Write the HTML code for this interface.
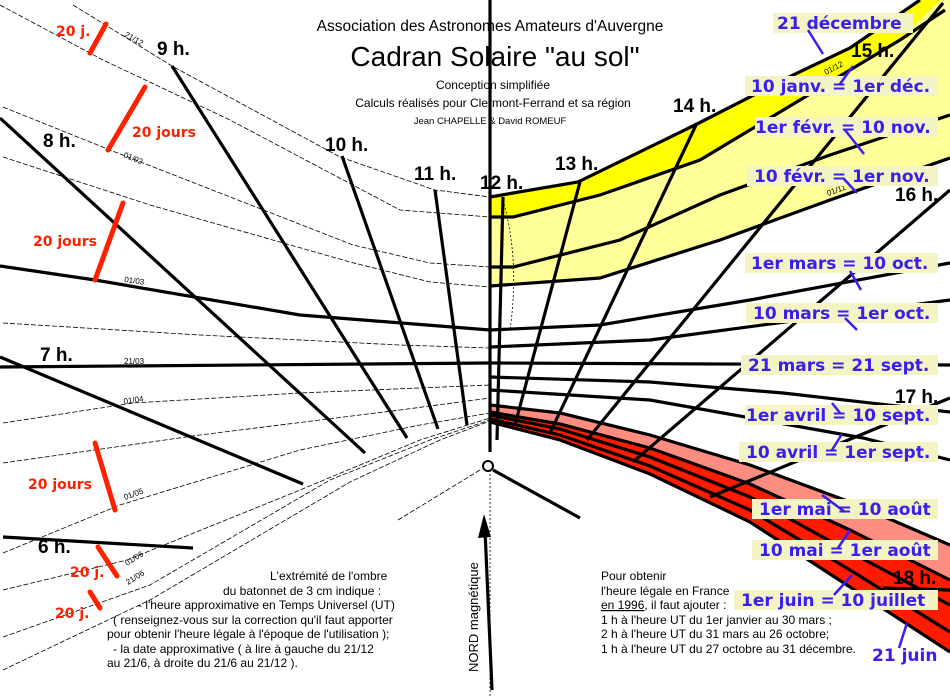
<!DOCTYPE html>
<html><head><meta charset="utf-8"><style>
html,body{margin:0;padding:0;background:#fff}
svg{display:block}
.hl{font-family:"Liberation Sans",sans-serif;font-weight:bold;font-size:19px;fill:#000}
.bl{font-family:"DejaVu Sans",sans-serif;font-weight:bold;font-size:17px;fill:#3a1ef0}
.rd{font-family:"DejaVu Sans",sans-serif;font-weight:bold;font-size:14px;fill:#ff2000}
.tx{font-family:"Liberation Sans",sans-serif;font-size:12px;fill:#000}
.sm{font-family:"Liberation Sans",sans-serif;font-size:8px;fill:#000}
</style></head><body>
<svg width="950" height="697" viewBox="0 0 950 697" xmlns="http://www.w3.org/2000/svg">
<polygon points="490,197 578,182 695,125 793,75 850,48 920,0 950,0 950,158 830,200 720,240 600,278 490,286" fill="#ffff99"/>
<polygon points="490,197 578,182 695,125 793,75 850,48 920,0 940,0 900,40 800,100 700,160 600,195 513,217 490,217" fill="#ffff00"/>
<polygon points="490,405 560,413 650,435 750,465 850,502 950,545 950,580 850,530 750,484 650,448 560,424 490,412" fill="#ff8c80"/>
<polygon points="490,412 560,424 650,448 750,484 850,530 950,580 950,652 850,587 750,522 650,474 560,440 490,422" fill="#ff1a00"/>
<g fill="none" stroke="#000" stroke-width="0.8" stroke-dasharray="5,2">
<polyline points="73,5 172,66 340,157 435,190 490,197"/>
<polyline points="0,5 103,60 230,120 400,210 490,217"/>
<polyline points="3,107 110,150 353,245 430,263 490,267"/>
<polyline points="3,157 150,205 350,262 430,282 490,287"/>
<polyline points="3,323 200,335 400,345 490,348"/>
<polyline points="3,423 133,403 300,393 490,385"/>
<polyline points="3,463 200,435 400,410 490,398"/>
<polyline points="3,553 120,505 300,450 420,425 490,413"/>
<polyline points="3,590 127,560 300,490 420,440 490,418"/>
<polyline points="3,637 150,585 330,480 430,440 490,420"/>
<polyline points="3,670 150,600 350,482 440,440 490,421"/>
<polyline points="398,520 480,470"/>
<line x1="490" y1="470" x2="490" y2="697" stroke-dasharray="2,2"/>
<path d="M503,200 Q520,260 510,330" stroke-dasharray="2,2"/>
</g>
<g fill="none" stroke="#000" stroke-width="3.2">
<polyline points="490,197 578,182 695,125 793,75 850,48 920,0"/>
<polyline points="490,217 513,217 600,195 700,160 800,100 900,40 945,10"/>
<polyline points="490,267 513,267 620,240 720,195 830,155 950,115"/>
<polyline points="490,286 600,278 720,240 830,200 950,158"/>
<polyline points="0,266 95,280 300,315 490,330 600,325 750,300 950,263"/>
<polyline points="490,347 650,340 800,320 950,300"/>
<polyline points="0,367 490,363 950,365"/>
<polyline points="490,377 650,382 783,393 950,412"/>
<polyline points="490,390 650,400 863,438 950,460"/>
<polyline points="490,405 560,413 650,435 750,465 850,502 950,545"/>
<polyline points="490,412 560,424 650,448 750,484 850,530 950,580"/>
<polyline points="490,415 560,429 650,457 750,497 850,552 950,605"/>
<polyline points="490,419 560,435 650,466 750,510 850,570 950,632"/>
<polyline points="490,422 560,440 650,474 750,522 850,587 950,652"/>
</g>
<g stroke="#000" stroke-width="3.2" fill="none">
<line x1="172" y1="66" x2="407" y2="438"/>
<line x1="0" y1="118" x2="365" y2="453"/>
<line x1="0" y1="357" x2="303" y2="484"/>
<line x1="3" y1="537" x2="193" y2="548"/>
<line x1="342" y1="156" x2="438" y2="429"/>
<line x1="435" y1="190" x2="467" y2="425"/>
<line x1="490" y1="0" x2="490" y2="452"/>
<line x1="503" y1="197" x2="497" y2="440"/>
<line x1="580" y1="182" x2="515" y2="425"/>
<line x1="697" y1="123" x2="550" y2="433"/>
<line x1="943" y1="3" x2="587" y2="440"/>
<line x1="950" y1="190" x2="633" y2="462"/>
<line x1="950" y1="398" x2="710" y2="497"/>
<line x1="883" y1="588" x2="950" y2="590"/>
<line x1="493" y1="470" x2="580" y2="518"/>
<line x1="492" y1="690" x2="485" y2="530"/>
</g>
<polygon points="484,514 478,538 491,537" fill="#000"/>
<circle cx="488" cy="466" r="5" fill="none" stroke="#000" stroke-width="2"/>
<g stroke="#ff2000" stroke-width="5" stroke-linecap="round">
<line x1="106" y1="24" x2="90" y2="53"/>
<line x1="145" y1="87" x2="108" y2="150"/>
<line x1="123" y1="203" x2="95" y2="280"/>
<line x1="95" y1="443" x2="115" y2="510"/>
<line x1="98" y1="547" x2="117" y2="576"/>
<line x1="90" y1="592" x2="100" y2="608"/>
</g>
<text class="rd" x="56" y="36">20 j.</text>
<text class="rd" x="132" y="137">20 jours</text>
<text class="rd" x="33" y="246">20 jours</text>
<text class="rd" x="28" y="489">20 jours</text>
<text class="rd" x="70" y="577">20 j.</text>
<text class="rd" x="55" y="618">20 j.</text>
<text class="sm" x="124" y="36" transform="rotate(30 124 36)">21/12</text>
<text class="sm" x="123" y="157" transform="rotate(22 123 157)">01/02</text>
<text class="sm" x="124" y="282" transform="rotate(8 124 282)">01/03</text>
<text class="sm" x="124" y="364">21/03</text>
<text class="sm" x="124" y="404" transform="rotate(-8 124 404)">01/04</text>
<text class="sm" x="125" y="500" transform="rotate(-20 125 500)">01/05</text>
<text class="sm" x="127" y="566" transform="rotate(-32 127 566)">01/06</text>
<text class="sm" x="128" y="585" transform="rotate(-32 128 585)">21/06</text>
<text class="sm" x="826" y="75" transform="rotate(-28 826 75)">01/12</text>
<text class="sm" x="828" y="196" transform="rotate(-20 828 196)">01/11</text>
<text class="hl" x="157" y="55">9 h.</text>
<text class="hl" x="43" y="147">8 h.</text>
<text class="hl" x="325" y="151">10 h.</text>
<text class="hl" x="414" y="180">11 h.</text>
<text class="hl" x="480" y="189">12 h.</text>
<text class="hl" x="555" y="170">13 h.</text>
<text class="hl" x="673" y="112">14 h.</text>
<text class="hl" x="851" y="57">15 h.</text>
<text class="hl" x="895" y="201">16 h.</text>
<text class="hl" x="895" y="403">17 h.</text>
<text class="hl" x="893" y="584">18 h.</text>
<text class="hl" x="40" y="361">7 h.</text>
<text class="hl" x="38" y="553">6 h.</text>
<g font-family="Liberation Sans,sans-serif" fill="#000" text-anchor="middle">
<text x="490" y="31" font-size="15.5">Association des Astronomes Amateurs d'Auvergne</text>
<text x="495" y="66" font-size="28">Cadran Solaire "au sol"</text>
<text x="493" y="89" font-size="12">Conception simplifiée</text>
<text x="493" y="107" font-size="12">Calculs réalisés pour Clermont-Ferrand et sa région</text>
<text x="490" y="124" font-size="9.5">Jean CHAPELLE &amp; David ROMEUF</text>
</g>
<text class="tx" x="270" y="580">L'extrémité de l'ombre</text>
<text class="tx" x="223" y="595">du batonnet de 3 cm indique :</text>
<text class="tx" x="138" y="609">-  l'heure approximative en Temps Universel (UT)</text>
<text class="tx" x="113" y="624">( renseignez-vous sur la correction qu'il faut apporter</text>
<text class="tx" x="107" y="638">pour obtenir l'heure légale à l'époque de l'utilisation );</text>
<text class="tx" x="113" y="653">-  la date approximative ( à lire à gauche du 21/12</text>
<text class="tx" x="107" y="667">au 21/6, à droite du 21/6 au 21/12 ).</text>
<text class="tx" x="601" y="580">Pour obtenir</text>
<text class="tx" x="601" y="595">l'heure légale  en France</text>
<text class="tx" x="601" y="609"><tspan text-decoration="underline">en 1996</tspan>, il faut ajouter :</text>
<text class="tx" x="601" y="624">1 h à l'heure UT du 1er janvier au 30 mars ;</text>
<text class="tx" x="601" y="638">2 h à l'heure UT du 31 mars au 26 octobre;</text>
<text class="tx" x="601" y="653">1 h à l'heure UT du 27 octobre au 31 décembre.</text>
<text x="478" y="672" transform="rotate(-90 478 672)" font-family="Liberation Sans,sans-serif" font-size="13" fill="#000">NORD magnétique</text>
<g fill="#f3f3c4">
<rect x="773" y="13" width="140" height="20"/>
<rect x="745" y="76" width="193" height="20"/>
<rect x="755" y="117" width="183" height="20"/>
<rect x="747" y="166" width="191" height="20"/>
<rect x="745" y="253" width="193" height="20"/>
<rect x="746" y="303" width="192" height="20"/>
<rect x="741" y="355" width="197" height="20"/>
<rect x="745" y="405" width="193" height="20"/>
<rect x="739" y="442" width="199" height="20"/>
<rect x="752" y="499" width="186" height="20"/>
<rect x="752" y="540" width="186" height="20"/>
<rect x="734" y="590" width="204" height="20"/>
</g>
<g stroke="#3a1ef0" stroke-width="2.5">
<line x1="808" y1="30" x2="823" y2="54"/>
<line x1="853" y1="66" x2="840" y2="84"/>
<line x1="845" y1="130" x2="864" y2="154"/>
<line x1="843" y1="178" x2="857" y2="193"/>
<line x1="850" y1="271" x2="861" y2="290"/>
<line x1="845" y1="318" x2="857" y2="330"/>
<line x1="832" y1="403" x2="840" y2="413"/>
<line x1="842" y1="434" x2="832" y2="450"/>
<line x1="822" y1="495" x2="845" y2="512"/>
<line x1="850" y1="530" x2="838" y2="548"/>
<line x1="852" y1="575" x2="834" y2="595"/>
<line x1="907" y1="623" x2="899" y2="648"/>
</g>
<text class="bl" x="777" y="29">21 décembre</text>
<text class="bl" x="751" y="92">10 janv. = 1er déc.</text>
<text class="bl" x="755" y="133">1er févr. = 10 nov.</text>
<text class="bl" x="754" y="182">10 févr. = 1er nov.</text>
<text class="bl" x="751" y="269">1er mars = 10 oct.</text>
<text class="bl" x="753" y="319">10 mars = 1er oct.</text>
<text class="bl" x="748" y="371">21 mars = 21 sept.</text>
<text class="bl" x="746" y="421">1er avril = 10 sept.</text>
<text class="bl" x="746" y="458">10 avril = 1er sept.</text>
<text class="bl" x="759" y="515">1er mai = 10 août</text>
<text class="bl" x="759" y="556">10 mai = 1er août</text>
<text class="bl" x="741" y="606">1er juin = 10 juillet</text>
<text class="bl" x="872" y="661">21 juin</text>
</svg>
</body></html>
